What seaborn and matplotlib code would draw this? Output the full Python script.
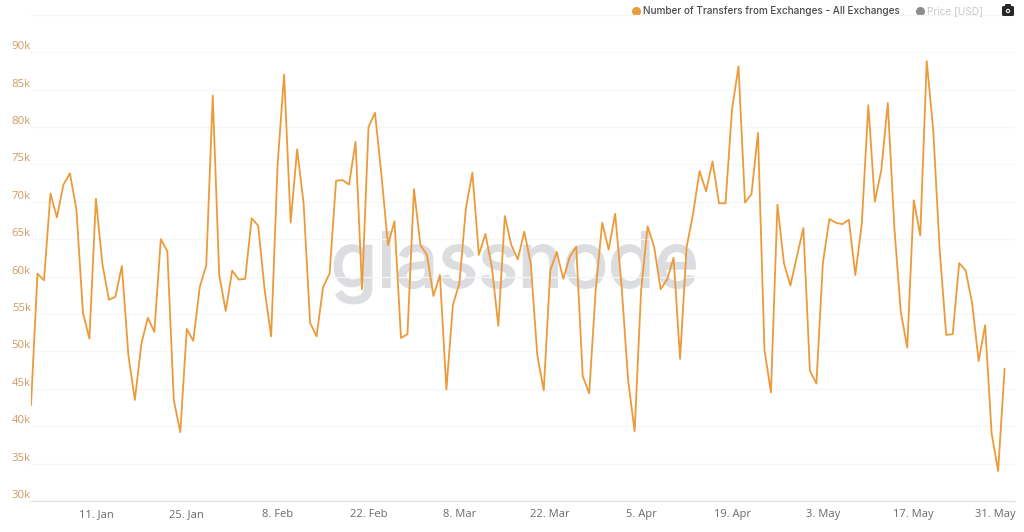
import matplotlib
matplotlib.use("Agg")
import matplotlib.pyplot as plt
import matplotlib.patheffects as pe
import matplotlib.transforms as mtrans
from matplotlib.lines import Line2D
from matplotlib.patches import FancyBboxPatch, Circle
import pandas as pd
import seaborn as sns

start_date = "2021-01-01"

transfers_k = [
    42.8, 60.4, 59.5, 71.1, 67.9, 72.3, 73.8, 68.9, 55.2, 51.7,
    70.4, 61.7, 56.9, 57.3, 61.4, 49.5, 43.5, 51.0, 54.5, 52.6,
    65.0, 63.4, 43.5, 39.2, 53.0, 51.4, 58.6, 61.5, 84.2, 60.2,
    55.4, 60.8, 59.6, 59.7, 67.8, 66.8, 58.2, 52.0, 75.1, 87.0,
    67.2, 77.0, 69.8, 53.8, 52.0, 58.6, 60.4, 72.8, 72.9, 72.3,
    78.0, 58.3, 80.0, 81.9, 73.5, 64.2, 67.4, 51.8, 52.3, 71.7,
    64.2, 62.9, 57.4, 60.2, 44.9, 56.2, 59.1, 69.1, 73.9, 62.9,
    65.7, 61.3, 53.4, 68.1, 64.2, 62.3, 66.0, 61.7, 49.5, 44.8,
    60.8, 63.3, 59.7, 62.6, 64.0, 46.7, 44.4, 58.2, 67.2, 63.6,
    68.4, 58.6, 46.1, 39.3, 58.2, 66.7, 64.0, 58.3, 59.6, 62.5,
    49.0, 63.9, 68.4, 74.1, 71.4, 75.4, 69.8, 69.8, 82.3, 88.1,
    69.9, 71.0, 79.2, 50.2, 44.5, 69.6, 61.8, 58.8, 62.7, 66.5,
    47.4, 45.7, 61.8, 67.7, 67.2, 67.0, 67.6, 60.2, 67.1, 82.9,
    70.0, 74.2, 83.2, 66.7, 55.3, 50.5, 70.2, 65.5, 88.8, 79.6,
    63.5, 52.2, 52.3, 61.8, 60.8, 56.4, 48.7, 53.5, 39.0, 34.0,
    47.7,
]

tick_dates = ["2021-01-11", "2021-01-25", "2021-02-08", "2021-02-22", "2021-03-08", "2021-03-22",
              "2021-04-05", "2021-04-19", "2021-05-03", "2021-05-17", "2021-05-31"]
tick_labels = ["11. Jan", "25. Jan", "8. Feb", "22. Feb", "8. Mar", "22. Mar",
               "5. Apr", "19. Apr", "3. May", "17. May", "31. May"]
y_ticks = [30, 35, 40, 45, 50, 55, 60, 65, 70, 75, 80, 85, 90, 95]
y_labels = ["30k", "35k", "40k", "45k", "50k", "55k", "60k", "65k", "70k", "75k", "80k", "85k", "90k", ""]

series_name = "Number of Transfers from Exchanges - All Exchanges"
price_name = "Price [USD]"

ORANGE = "#ec9b3b"
W, H = 1024, 532

df = pd.DataFrame({"date": pd.date_range(start_date, periods=len(transfers_k), freq="D"),
                   "transfers": transfers_k})

sns.set_theme(style="white")
plt.rcParams["font.family"] = ["Open Sans", "DejaVu Sans"]

fig = plt.figure(figsize=(W / 100, H / 100), dpi=100)
# axes run from the first data point to where the grid stops
ax = fig.add_axes([31 / W, 1 - 501 / H, (1015 - 31) / W, (501 - 14) / H])
# transparent and above the watermark so the line stays on top of it
ax.set_zorder(2)
ax.patch.set_alpha(0)

sns.lineplot(data=df, x="date", y="transfers", color=ORANGE, linewidth=1.3, ax=ax, zorder=3)

ax.set_xlim(df["date"].iloc[0], df["date"].iloc[0] + pd.Timedelta(days=151.6))
ax.set_ylim(30, 95.1)
ax.set_xlabel("")
ax.set_ylabel("")

ax.set_xticks(pd.to_datetime(tick_dates))
ax.set_xticklabels(tick_labels, fontsize=8, color="#6a6a6a")
ax.set_yticks(y_ticks)
ax.set_yticklabels(y_labels, fontsize=8.2, color="#cc9c62")
ax.tick_params(axis="x", length=0, pad=6)
ax.tick_params(axis="y", length=0, pad=0)
for lab in ax.get_yticklabels():
    lab.set_verticalalignment("bottom")

# last date label gets pushed left so it stays inside the chart
last = ax.get_xticklabels()[-1]
last.set_transform(last.get_transform() + mtrans.ScaledTranslation(-9 / 100, 0, fig.dpi_scale_trans))

ax.grid(axis="y", color="#f6f6f6", linewidth=0.9)
ax.set_axisbelow(True)
for name in ["top", "left", "right"]:
    ax.spines[name].set_visible(False)
ax.spines["bottom"].set_color("#e2e2e2")
ax.spines["bottom"].set_linewidth(0.9)

# watermark
fig.text(515 / W, 1 - 287 / H, "glassnode", fontsize=54.5, family="Inter", color="#dcdde0",
         ha="center", va="baseline", zorder=1,
         path_effects=[pe.withStroke(linewidth=1.5, foreground="#dcdde0")])

# legend row on top
fig.add_artist(Line2D([636 / W], [1 - 11 / H], marker="o", markersize=5.5, color=ORANGE, transform=fig.transFigure))
fig.text(643 / W, 1 - 11 / H, series_name, fontsize=7.2, family="Inter", fontweight="medium",
         color="#4a4a4a", ha="left", va="center", zorder=3)
fig.add_artist(Line2D([920 / W], [1 - 11 / H], marker="o", markersize=5.5, color="#8c8c8c", transform=fig.transFigure))
fig.text(927 / W, 1 - 11 / H, price_name, fontsize=7.3, family="Inter", color="#c9c9c9",
         ha="left", va="center", zorder=3)

# camera button
overlay = fig.add_axes([0, 0, 1, 1], facecolor="none")
overlay.set_zorder(3)
overlay.set_xlim(0, W)
overlay.set_ylim(H, 0)
overlay.axis("off")
overlay.add_patch(FancyBboxPatch((1002.5, 6.5), 11, 9, boxstyle="round,pad=0.5,rounding_size=1.5", color="#262626", lw=0))
overlay.add_patch(FancyBboxPatch((1005, 4), 6, 3, boxstyle="round,pad=0,rounding_size=1", color="#262626", lw=0))
overlay.add_patch(Circle((1008, 11), 2.2, color="#e8e8e8", lw=0))
overlay.add_patch(Circle((1008, 11), 1.0, color="#262626", lw=0))

fig.savefig("out.png", dpi=100)
